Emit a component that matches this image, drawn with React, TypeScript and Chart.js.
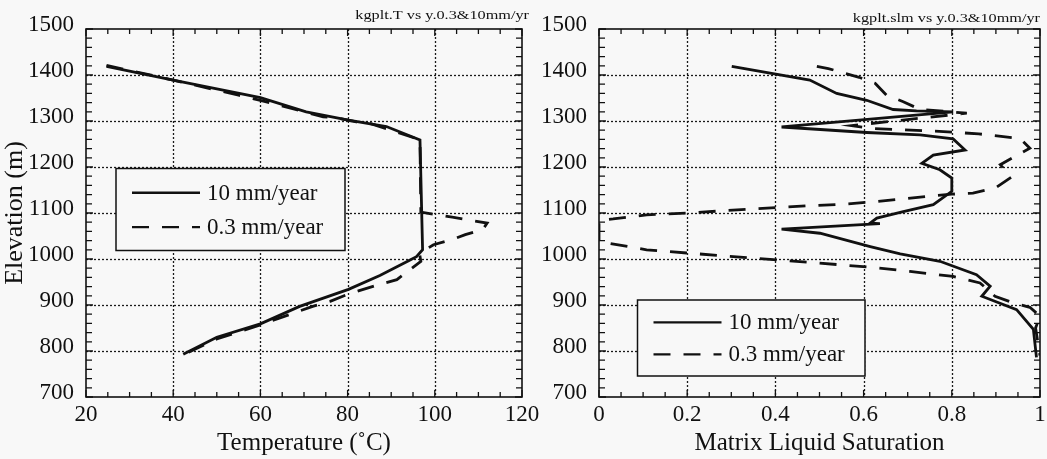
import React, { useEffect, useRef } from 'react';
import { Chart, registerables } from 'chart.js';

Chart.register(...registerables);

const FONT = '"Liberation Serif", "Times New Roman", Times, serif';
const BG = '#f8f8f8';
const INK = '#111111';

// ---------- Left panel: temperature vs elevation ----------
const temperature10 = [24.7, 40, 60, 70.5, 80.2, 88.9, 96.6, 97.2, 95.8, 94, 87.4, 80.2, 69, 60, 50, 42.3];
const elevationT10 = [1419, 1389, 1351, 1320, 1302, 1288, 1259, 1020, 1005, 996, 964, 934, 897, 859, 830, 793];

const temperature03 = [24.7, 40, 55, 60, 70.5, 74.4, 77.5, 82, 85, 89.7, 96.6, 96.8, 100, 104, 112, 111, 107, 103.9, 99.7, 96.5, 96.8, 95, 91.3, 87, 80.2, 76, 72, 69, 64.5, 60, 50, 42.3];
const elevationT03 = [1421, 1389, 1356, 1345, 1319, 1309, 1307, 1298, 1295, 1281, 1259, 1102, 1097, 1091, 1078, 1064, 1053, 1042, 1031, 1012, 995, 982, 955, 944, 924, 908, 897, 887, 872, 857, 826, 792];

// ---------- Right panel: matrix liquid saturation vs elevation ----------
const saturation10 = [0.301, 0.478, 0.539, 0.607, 0.667, 0.72, 0.803, 0.414, 0.607, 0.728, 0.803, 0.83, 0.758, 0.732, 0.773, 0.80, 0.80, 0.758, 0.69, 0.63, 0.615, 0.637, 0.414, 0.501, 0.615, 0.683, 0.773, 0.856, 0.887, 0.868, 0.947, 0.985, 0.992];
const elevationS10 = [1419, 1389, 1360, 1345, 1325, 1322, 1320, 1287, 1275, 1270, 1261, 1237, 1226, 1208, 1194, 1176, 1147, 1118, 1103, 1089, 1078, 1077, 1065, 1056, 1027, 1011, 995, 966, 941, 919, 890, 847, 786];

const saturation03 = [0.494, 0.52, 0.59, 0.626, 0.652, 0.69, 0.728, 0.773, 0.834, 0.573, 0.615, 0.781, 0.861, 0.955, 0.977, 0.91, 0.935, 0.90, 0.848, 0.80, 0.743, 0.63, 0.553, 0.478, 0.406, 0.199, 0.108, 0.032, 0.0, 0.0, 0.108, 0.199, 0.35, 0.50, 0.63, 0.705, 0.803, 0.864, 0.898, 0.939, 0.977, 1.0, 0.99, 1.0];
const elevationS03 = [1419, 1414, 1395, 1382, 1356, 1342, 1325, 1322, 1317, 1290, 1284, 1277, 1272, 1262, 1241, 1205, 1178, 1155, 1143, 1141, 1136, 1125, 1119, 1116, 1112, 1100, 1096, 1087, 1084, 1038, 1020, 1013, 1002, 991, 981, 973, 962, 948, 919, 905, 895, 876, 850, 790];

// ---------- Text ----------
const seriesLabels = ['10 mm/year', '0.3 mm/year'];
const panelTitles = ['kgplt.T vs y.0.3&10mm/yr', 'kgplt.slm vs y.0.3&10mm/yr'];
const xAxisTitles = ['Temperature (\u02DAC)', 'Matrix Liquid Saturation'];
const yAxisTitle = 'Elevation (m)';

const SOLID: number[] = [];
const DASHED = [17, 13];

type Series = { xs: number[]; ys: number[]; label: string; dash: number[] };
type Box = { x: number; y: number; w: number; h: number };
type PanelCfg = {
  left: number; width: number; yAxisWidth: number; padRight: number;
  xMin: number; xMax: number; xStep: number; xMinor: number;
  xTitle: string; yTitle?: string; title: string; titleRight: number; titleY: number;
  series: Series[]; legend: Box;
};

const HEIGHT = 459;
const PLOT_TOP = 29;
const PLOT_BOTTOM = 397;
const Y_MIN = 700, Y_MAX = 1500, Y_STEP = 100, Y_MINOR = 20;

const toPoints = (xs: number[], ys: number[]) => xs.map((x, i) => ({ x, y: ys[i] }));
const plainLabel = (v: any) => String(Number(Number(v).toFixed(3)));

function makePlugin(cfg: PanelCfg) {
  return {
    id: 'paperFrame',
    beforeDatasetsDraw(chart: any) {
      const { ctx, chartArea: a, scales } = chart;
      const xs = scales.x, ys = scales.y;
      ctx.save();
      ctx.strokeStyle = '#1a1a1a';
      ctx.lineWidth = 1.3;
      ctx.setLineDash([2, 2]);
      xs.ticks.forEach((t: any) => {
        const px = Math.round(xs.getPixelForValue(t.value)) + 0.5;
        if (px <= a.left + 1 || px >= a.right - 1) return;
        ctx.beginPath(); ctx.moveTo(px, a.top); ctx.lineTo(px, a.bottom); ctx.stroke();
      });
      ys.ticks.forEach((t: any) => {
        const py = Math.round(ys.getPixelForValue(t.value)) + 0.5;
        if (py <= a.top + 1 || py >= a.bottom - 1) return;
        ctx.beginPath(); ctx.moveTo(a.left, py); ctx.lineTo(a.right, py); ctx.stroke();
      });
      ctx.restore();
    },
    afterDatasetsDraw(chart: any) {
      const { ctx, chartArea: a, scales } = chart;
      const xs = scales.x, ys = scales.y;
      ctx.save();
      ctx.setLineDash([]);
      ctx.strokeStyle = INK;
      ctx.lineWidth = 1.6;
      ctx.strokeRect(a.left, a.top, a.right - a.left, a.bottom - a.top);
      ctx.lineWidth = 1.3;
      const nx = Math.round((cfg.xMax - cfg.xMin) / cfg.xMinor);
      for (let i = 0; i <= nx; i++) {
        const v = cfg.xMin + i * cfg.xMinor;
        const major = i % Math.round(cfg.xStep / cfg.xMinor) === 0;
        const len = major ? 7 : 5;
        const px = xs.getPixelForValue(v);
        ctx.beginPath();
        ctx.moveTo(px, a.bottom); ctx.lineTo(px, a.bottom - len);
        ctx.moveTo(px, a.top); ctx.lineTo(px, a.top + len);
        ctx.stroke();
      }
      const ny = Math.round((Y_MAX - Y_MIN) / Y_MINOR);
      for (let i = 0; i <= ny; i++) {
        const v = Y_MIN + i * Y_MINOR;
        const major = i % Math.round(Y_STEP / Y_MINOR) === 0;
        const len = major ? 7 : 6;
        const py = ys.getPixelForValue(v);
        ctx.beginPath();
        ctx.moveTo(a.left, py); ctx.lineTo(a.left + len, py);
        ctx.moveTo(a.right, py); ctx.lineTo(a.right - len, py);
        ctx.stroke();
      }
      ctx.restore();
    },
    afterDraw(chart: any) {
      const { ctx } = chart;
      const b = cfg.legend;
      ctx.save();
      ctx.fillStyle = BG;
      ctx.fillRect(b.x, b.y, b.w, b.h);
      ctx.strokeStyle = INK;
      ctx.lineWidth = 1.5;
      ctx.setLineDash([]);
      ctx.strokeRect(b.x, b.y, b.w, b.h);
      const rows = [0.295, 0.715];
      chart.data.datasets.forEach((ds: any, i: number) => {
        const ry = b.y + b.h * rows[i];
        ctx.strokeStyle = ds.borderColor;
        ctx.lineWidth = 2.4;
        ctx.setLineDash(ds.borderDash || []);
        ctx.beginPath();
        ctx.moveTo(b.x + 16, ry); ctx.lineTo(b.x + 84, ry);
        ctx.stroke();
        ctx.setLineDash([]);
        ctx.fillStyle = INK;
        ctx.font = `23px ${FONT}`;
        ctx.textAlign = 'left';
        ctx.textBaseline = 'middle';
        ctx.fillText(ds.label, b.x + 91, ry + 1);
      });
      ctx.font = `13px ${FONT}`;
      ctx.fillStyle = INK;
      ctx.textAlign = 'right';
      ctx.textBaseline = 'middle';
      ctx.translate(cfg.titleRight, cfg.titleY);
      ctx.scale(1.25, 1);
      ctx.fillText(cfg.title, 0, 0);
      ctx.restore();
    },
  };
}

function Panel({ cfg }: { cfg: PanelCfg }) {
  const ref = useRef<HTMLCanvasElement | null>(null);
  useEffect(() => {
    if (!ref.current) return;
    const chart = new Chart(ref.current, {
      type: 'scatter',
      data: {
        datasets: cfg.series.map((s) => ({
          label: s.label,
          data: toPoints(s.xs, s.ys),
          showLine: true,
          borderColor: INK,
          backgroundColor: INK,
          borderWidth: 2.8,
          borderDash: s.dash,
          pointRadius: 0,
          pointHoverRadius: 0,
          tension: 0,
          fill: false,
        })),
      },
      options: {
        animation: false,
        responsive: false,
        devicePixelRatio: 1,
        events: [],
        layout: { padding: { top: PLOT_TOP, right: cfg.padRight, left: 0, bottom: 0 } },
        plugins: {
          legend: { display: false },
          tooltip: { enabled: false },
          title: { display: false },
        },
        scales: {
          x: {
            type: 'linear',
            position: 'bottom',
            min: cfg.xMin,
            max: cfg.xMax,
            grid: { display: false },
            border: { display: false },
            ticks: {
              stepSize: cfg.xStep,
              color: INK,
              font: { family: FONT, size: 23 },
              padding: -4,
              maxRotation: 0,
              autoSkip: false,
              callback: plainLabel,
            },
            title: {
              display: true,
              text: cfg.xTitle,
              color: INK,
              font: { family: FONT, size: 25, lineHeight: 1.2 },
              padding: { top: 0, bottom: 1 },
            },
            afterFit: (s: any) => {
              s.height = HEIGHT - PLOT_BOTTOM;
              s.paddingLeft = 0; s.paddingRight = 0;
            },
          },
          y: {
            type: 'linear',
            position: 'left',
            min: Y_MIN,
            max: Y_MAX,
            grid: { display: false },
            border: { display: false },
            ticks: {
              stepSize: Y_STEP,
              color: INK,
              font: { family: FONT, size: 23 },
              padding: 4,
              labelOffset: -4,
              autoSkip: false,
              callback: plainLabel,
            },
            title: {
              display: !!cfg.yTitle,
              text: cfg.yTitle || '',
              color: INK,
              font: { family: FONT, size: 26, lineHeight: 1 },
              padding: { top: 2, bottom: 0 },
            },
            afterFit: (s: any) => {
              s.width = cfg.yAxisWidth;
              s.paddingTop = 0; s.paddingBottom = 0;
            },
          },
        },
      } as any,
      plugins: [makePlugin(cfg)],
    });
    return () => chart.destroy();
  }, [cfg]);
  return (
    <canvas
      ref={ref}
      width={cfg.width}
      height={HEIGHT}
      style={{ position: 'absolute', left: cfg.left, top: 0, width: cfg.width, height: HEIGHT }}
    />
  );
}

const leftPanel: PanelCfg = {
  left: 0, width: 540, yAxisWidth: 86, padRight: 18,
  xMin: 20, xMax: 120, xStep: 20, xMinor: 5,
  xTitle: xAxisTitles[0], yTitle: yAxisTitle,
  title: panelTitles[0], titleRight: 529, titleY: 15.5,
  series: [
    { xs: temperature10, ys: elevationT10, label: seriesLabels[0], dash: SOLID },
    { xs: temperature03, ys: elevationT03, label: seriesLabels[1], dash: DASHED },
  ],
  legend: { x: 116, y: 168.5, w: 229, h: 82 },
};

const rightPanel: PanelCfg = {
  left: 530, width: 517, yAxisWidth: 69, padRight: 7,
  xMin: 0, xMax: 1, xStep: 0.2, xMinor: 0.05,
  xTitle: xAxisTitles[1],
  title: panelTitles[1], titleRight: 510, titleY: 19,
  series: [
    { xs: saturation10, ys: elevationS10, label: seriesLabels[0], dash: SOLID },
    { xs: saturation03, ys: elevationS03, label: seriesLabels[1], dash: DASHED },
  ],
  legend: { x: 107.5, y: 300, w: 227.5, h: 76 },
};

export default function App() {
  return (
    <div style={{ position: 'absolute', left: 0, top: 0, width: 1047, height: HEIGHT, background: BG, overflow: 'hidden' }}>
      <Panel cfg={leftPanel} />
      <Panel cfg={rightPanel} />
    </div>
  );
}
